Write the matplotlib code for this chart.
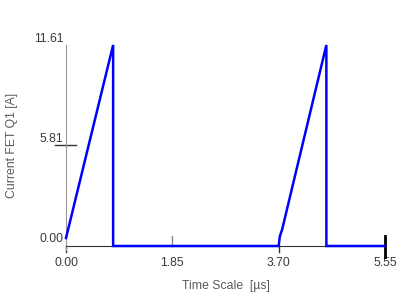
import matplotlib.pyplot as plt
import matplotlib.transforms as mtrans

# waveform of the FET current (time in us, current in A)
time_us = [0.00, 0.82, 0.82, 3.70, 3.72, 3.76, 4.53, 4.53, 5.55]
current_a = [0.46, 11.61, 0.00, 0.00, 0.55, 0.95, 11.61, 0.00, 0.00]

x_ticks = [0.00, 1.85, 3.70, 5.55]
y_ticks = [0.00, 5.81, 11.61]

plt.rcParams['font.family'] = ['Liberation Sans', 'DejaVu Sans']
tick_color = '#3a3a3a'
title_color = '#5a5a5a'
fs = 8.8

fig = plt.figure(figsize=(4.15, 2.96), dpi=100)
ax = fig.add_axes([66 / 415, 50 / 296, 319 / 415, 201 / 296])

ax.plot(time_us, current_a, color='#0000ff', lw=1.8, solid_joinstyle='miter', zorder=3, clip_on=False)
ax.set_xlim(0, 5.55)
ax.set_ylim(0, 11.61)

for s in ['top', 'right']:
    ax.spines[s].set_visible(False)
ax.spines['left'].set_color('#999999')
ax.spines['left'].set_bounds(-0.25, 11.61)
ax.spines['bottom'].set_color('#333333')

ax.set_xticks(x_ticks)
ax.set_xticklabels(['%.2f' % v for v in x_ticks])
ax.set_yticks(y_ticks)
ax.set_yticklabels(['%.2f' % v for v in y_ticks])
ax.tick_params(length=0, labelsize=fs, labelcolor=tick_color)
ax.tick_params(axis='x', pad=8)
ax.tick_params(axis='y', pad=2)

# y labels sit a little above their level
off = mtrans.ScaledTranslation(0, 8 / 100, fig.dpi_scale_trans)
for lab in ax.get_yticklabels():
    lab.set_transform(lab.get_transform() + off)

# hand-drawn tick marks
bx = ax.get_xaxis_transform()
by = ax.get_yaxis_transform()
ax.plot([-0.033, 0.03], [5.81, 5.81], color='#333333', lw=1, transform=by, clip_on=False)
ax.plot([0, 0], [0, -0.03], color='#333333', lw=1, transform=bx, clip_on=False)
ax.plot([1.85, 1.85], [0, 0.05], color='#888888', lw=1, transform=bx, clip_on=False)
ax.plot([3.70, 3.70], [0, -0.03], color='#333333', lw=1, transform=bx, clip_on=False)
ax.plot([5.55, 5.55], [-0.055, 0.05], color='#000000', lw=2, transform=bx, clip_on=False)

ax.set_xlabel('Time Scale  [µs]', fontsize=fs, color=title_color)
ax.set_ylabel('Current FET Q1 [A]', fontsize=fs, color=title_color)
ax.xaxis.set_label_coords(0.50, -0.199)
ax.yaxis.set_label_coords(-0.169, 0.5)
ax.xaxis.label.set_va('center')
ax.yaxis.label.set_va('center')

fig.savefig('out.png', dpi=100)
